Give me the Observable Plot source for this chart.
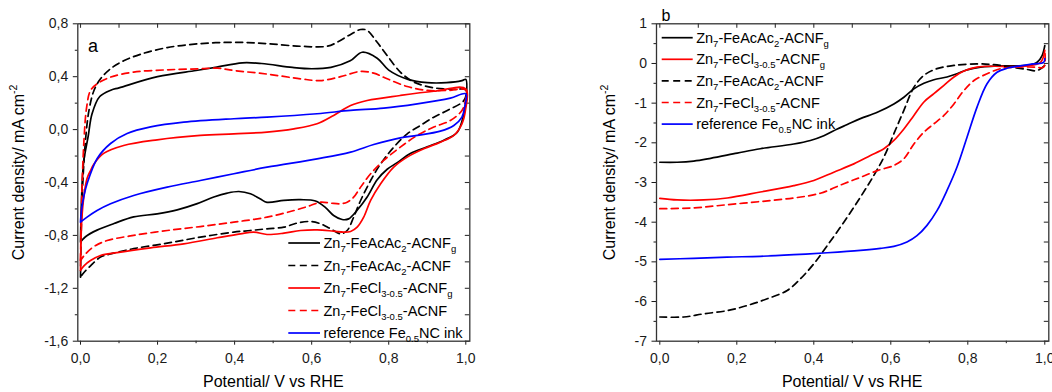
<!DOCTYPE html>
<html><head><meta charset="utf-8">
<script src="https://cdn.jsdelivr.net/npm/d3@7"></script>
<script src="https://cdn.jsdelivr.net/npm/@observablehq/plot@0.6"></script>
<style>
html,body{margin:0;padding:0;background:#fff;}
#wrap{position:relative;width:1052px;height:392px;overflow:hidden;font-family:"Liberation Sans",Arial,sans-serif;}
#wrap svg{position:absolute;top:0;}
</style></head><body><div id="wrap"></div>
<script>
// ---------- Panel a (cyclic voltammograms) ----------
const aFeAcAcGX = [0,0.003,0.008,0.02,0.03,0.05,0.08,0.1,0.2,0.3,0.35,0.42,0.47,0.55,0.6,0.65,0.7,0.731,0.77,0.8,0.85,0.9,0.95,0.99,1.0,
  1.0,0.995,0.978,0.943,0.900,0.856,0.822,0.796,0.770,0.744,0.718,0.696,0.679,0.657,0.636,0.610,0.571,0.528,0.484,0.467,0.441,0.411,0.381,0.346,0.303,0.251,0.199,0.138,0.087,0.043,0.013,0];
const aFeAcAcGY = [-0.85,-0.5,-0.25,-0.05,0.12,0.25,0.3,0.316,0.40,0.447,0.47,0.505,0.50,0.47,0.46,0.47,0.52,0.585,0.54,0.45,0.38,0.355,0.355,0.37,0.38,
  0.2,0.12,-0.02,-0.08,-0.13,-0.18,-0.25,-0.30,-0.38,-0.51,-0.61,-0.675,-0.68,-0.65,-0.59,-0.54,-0.53,-0.535,-0.55,-0.525,-0.485,-0.468,-0.48,-0.51,-0.56,-0.607,-0.637,-0.66,-0.71,-0.76,-0.81,-0.85];

const aFeAcAcX = [0,0.004,0.013,0.022,0.035,0.052,0.078,0.112,0.156,0.225,0.311,0.398,0.484,0.571,0.640,0.666,0.701,0.727,0.744,0.770,0.796,0.830,0.865,0.917,0.969,1.0,
  0.995,0.952,0.917,0.882,0.848,0.813,0.779,0.753,0.727,0.709,0.692,0.675,0.649,0.623,0.597,0.562,0.528,0.484,0.441,0.398,0.311,0.225,0.138,0.078,0.052,0.026,0.009,0];
const aFeAcAcY = [-1.116,-0.536,-0.08,0.145,0.296,0.384,0.46,0.52,0.57,0.62,0.65,0.66,0.65,0.63,0.63,0.66,0.72,0.757,0.75,0.66,0.56,0.435,0.36,0.316,0.305,0.30,
  0.22,0.145,0.094,0.031,-0.032,-0.133,-0.259,-0.385,-0.536,-0.662,-0.763,-0.788,-0.75,-0.712,-0.695,-0.707,-0.738,-0.75,-0.763,-0.775,-0.813,-0.859,-0.90,-0.94,-0.964,-1.03,-1.08,-1.116];

const aFeClGX = [0,0.003,0.009,0.017,0.026,0.035,0.06,0.112,0.199,0.311,0.398,0.484,0.554,0.614,0.657,0.701,0.744,0.830,0.917,1.0,
  0.999,0.990,0.969,0.934,0.891,0.848,0.813,0.779,0.753,0.735,0.718,0.701,0.683,0.657,0.614,0.571,0.528,0.484,0.450,0.415,0.355,0.268,0.182,0.095,0.052,0.026,0.009,0];
const aFeClGY = [-1.065,-0.70,-0.50,-0.37,-0.31,-0.26,-0.18,-0.12,-0.077,-0.044,-0.032,-0.019,0.006,0.044,0.107,0.182,0.22,0.258,0.29,0.308,
  0.145,0.044,-0.044,-0.095,-0.145,-0.208,-0.284,-0.41,-0.536,-0.662,-0.738,-0.77,-0.775,-0.768,-0.758,-0.763,-0.783,-0.793,-0.775,-0.788,-0.818,-0.864,-0.894,-0.93,-0.952,-0.99,-1.03,-1.065];

const aFeClX = [0,0.003,0.009,0.016,0.026,0.043,0.078,0.138,0.225,0.311,0.355,0.398,0.484,0.571,0.623,0.675,0.727,0.761,0.796,0.848,0.900,0.952,1.0,
  0.999,0.990,0.960,0.917,0.874,0.830,0.787,0.753,0.727,0.709,0.692,0.675,0.649,0.623,0.597,0.554,0.484,0.398,0.311,0.225,0.138,0.069,0.035,0.013,0];
const aFeClY = [-0.99,-0.536,-0.082,0.17,0.296,0.346,0.397,0.435,0.452,0.46,0.465,0.447,0.42,0.384,0.371,0.40,0.44,0.427,0.384,0.326,0.296,0.296,0.30,
  0.22,0.145,0.069,0.019,-0.044,-0.133,-0.233,-0.334,-0.435,-0.511,-0.549,-0.561,-0.556,-0.549,-0.574,-0.612,-0.662,-0.70,-0.733,-0.763,-0.80,-0.839,-0.884,-0.94,-0.99];

const aRefX = [0,0.003,0.009,0.017,0.043,0.078,0.121,0.182,0.268,0.398,0.484,0.614,0.701,0.787,0.874,0.960,1.0,
  0.997,0.990,0.969,0.934,0.874,0.830,0.761,0.701,0.614,0.484,0.398,0.311,0.225,0.138,0.078,0.043,0.017,0];
const aRefY = [-0.70,-0.60,-0.50,-0.41,-0.22,-0.105,-0.03,0.02,0.056,0.082,0.094,0.12,0.145,0.162,0.195,0.238,0.27,
  0.17,0.094,0.031,-0.012,-0.044,-0.062,-0.113,-0.17,-0.221,-0.284,-0.334,-0.385,-0.435,-0.498,-0.561,-0.612,-0.662,-0.70];

// ---------- Panel b (linear sweeps) ----------
const bFeAcAcGX = [0,0.045,0.088,0.132,0.201,0.261,0.348,0.391,0.426,0.461,0.487,0.521,0.565,0.608,0.634,0.660,0.686,0.712,0.746,0.772,0.798,0.833,0.868,0.911,0.954,0.980,0.993,1.0];
const bFeAcAcGY = [-2.49,-2.49,-2.46,-2.39,-2.26,-2.15,-2.03,-1.94,-1.82,-1.65,-1.54,-1.39,-1.23,-1.02,-0.85,-0.64,-0.50,-0.41,-0.34,-0.26,-0.16,-0.09,-0.07,-0.06,-0.05,0.03,0.20,0.45];

const bFeClGX = [0,0.045,0.114,0.175,0.261,0.348,0.400,0.452,0.504,0.547,0.582,0.608,0.634,0.660,0.686,0.712,0.738,0.764,0.790,0.824,0.868,0.911,0.954,0.989,1.0];
const bFeClGY = [-3.40,-3.44,-3.44,-3.39,-3.24,-3.08,-2.95,-2.74,-2.53,-2.32,-2.15,-1.94,-1.65,-1.31,-0.97,-0.76,-0.55,-0.34,-0.19,-0.09,-0.07,-0.08,-0.06,0.03,0.33];

const bFeAcAcX = [0,0.062,0.114,0.175,0.227,0.279,0.331,0.365,0.400,0.435,0.478,0.521,0.556,0.582,0.608,0.634,0.660,0.686,0.720,0.764,0.824,0.868,0.911,0.954,0.980,1.0];
const bFeAcAcY = [-6.39,-6.39,-6.31,-6.23,-6.10,-5.93,-5.72,-5.43,-5.05,-4.59,-4.0,-3.37,-2.82,-2.36,-1.77,-1.18,-0.60,-0.30,-0.13,-0.05,-0.01,-0.03,-0.09,-0.15,-0.18,-0.05];

const bFeClX = [0,0.088,0.175,0.261,0.348,0.417,0.478,0.521,0.565,0.608,0.634,0.660,0.686,0.712,0.738,0.764,0.790,0.816,0.850,0.885,0.928,0.971,0.997,1.0];
const bFeClY = [-3.66,-3.64,-3.56,-3.48,-3.39,-3.27,-3.03,-2.87,-2.70,-2.57,-2.40,-2.03,-1.73,-1.52,-1.31,-1.02,-0.68,-0.43,-0.26,-0.13,-0.09,-0.09,-0.09,0.33];

const bRefX = [0,0.088,0.175,0.261,0.348,0.435,0.521,0.573,0.608,0.642,0.668,0.694,0.720,0.746,0.772,0.798,0.824,0.850,0.876,0.902,0.937,0.971,0.997,1.0];
const bRefY = [-4.94,-4.91,-4.88,-4.86,-4.82,-4.77,-4.71,-4.66,-4.61,-4.50,-4.34,-4.08,-3.71,-3.20,-2.61,-1.86,-1.10,-0.51,-0.22,-0.12,-0.06,-0.01,0.03,0.12];

// ---------- ticks & labels ----------
const xMajor = [0, 0.2, 0.4, 0.6, 0.8, 1.0];
const xMinor = [0.1, 0.3, 0.5, 0.7, 0.9];
const aYMajor = [-1.6, -1.2, -0.8, -0.4, 0, 0.4, 0.8];
const aYMinor = [-1.4, -1.0, -0.6, -0.2, 0.2, 0.6];
const bYMajor = [-7, -6, -5, -4, -3, -2, -1, 0, 1];
const bYMinor = [-6.5, -5.5, -4.5, -3.5, -2.5, -1.5, -0.5, 0.5];

const xTitle = "Potential/ V vs RHE";
const yTitle = "Current density/ mA cm";
const yTitleSup = "-2";

// legend labels as [text, isSubscript] parts
const nameFeAcAcG = [["Zn",0],["7",1],["-FeAcAc",0],["2",1],["-ACNF",0],["g",1]];
const nameFeAcAc  = [["Zn",0],["7",1],["-FeAcAc",0],["2",1],["-ACNF",0]];
const nameFeClG   = [["Zn",0],["7",1],["-FeCl",0],["3-0.5",1],["-ACNF",0],["g",1]];
const nameFeCl    = [["Zn",0],["7",1],["-FeCl",0],["3-0.5",1],["-ACNF",0]];
const nameRef     = [["reference Fe",0],["0.5",1],["NC ink",0]];

const rows = (xs, ys) => xs.map((x, i) => ({x, y: ys[i]}));
const fmt1 = d => d.toFixed(1).replace(".", ",");

function richText(sel, parts, subSize, subDy) {
  let shifted = 0;
  parts.forEach(([t, sub]) => {
    const ts = sel.append("tspan").text(t);
    if (sub && !shifted) { ts.attr("dy", subDy).attr("font-size", subSize); shifted = 1; }
    else if (sub) { ts.attr("font-size", subSize); }
    else if (!sub && shifted) { ts.attr("dy", -subDy); shifted = 0; }
  });
}

function panel(cfg) {
  const {width, left, mL, mR, xDomain, yDomain, yMajor, yMinor, yFmt, series, legend, tag} = cfg;
  const height = 392, mT = 23.3, mB = 51.3;
  const innerW = width - mL - mR, innerH = height - mT - mB;
  const marks = [
    Plot.axisX({ticks: xMajor, anchor: "bottom", tickSize: 4, tickPadding: 8, tickFormat: fmt1, label: null, fontSize: 14}),
    Plot.axisX({ticks: xMinor, anchor: "bottom", tickSize: 2.5, tickFormat: () => "", label: null}),
    Plot.axisY({ticks: yMajor, anchor: "left", tickSize: 4.5, tickPadding: 5, tickFormat: yFmt, label: null, fontSize: 14}),
    Plot.axisY({ticks: yMinor, anchor: "left", tickSize: 2.5, tickFormat: () => "", label: null}),
    Plot.tickX(xMajor.concat(xMinor), {x: d => d, insetBottom: innerH - 4.5, stroke: "#333", strokeWidth: 1.1}),
    Plot.tickY(yMajor.concat(yMinor), {y: d => d, insetLeft: innerW - 4.5, stroke: "#333", strokeWidth: 1.1}),
    ...series.map(s => Plot.line(rows(s.x, s.y), {x: "x", y: "y", stroke: s.color, strokeWidth: 1.7,
      strokeDasharray: s.dash ? "7,4.5" : null, curve: "catmull-rom"})),
    Plot.frame({stroke: "#333", strokeWidth: 1.3})
  ];
  const chart = Plot.plot({
    width, height, marginLeft: mL, marginRight: mR, marginTop: mT, marginBottom: mB,
    x: {domain: xDomain}, y: {domain: yDomain},
    style: {fontFamily: '"Liberation Sans", Arial, sans-serif', fontSize: "14px", color: "#1a1a1a", background: "transparent", overflow: "visible"},
    marks
  });
  chart.style.left = left + "px";
  const svg = d3.select(chart);
  const ff = '"Liberation Sans", Arial, sans-serif';
  // legend
  const lg = svg.append("g").attr("text-anchor", "start");
  legend.rows.forEach((s, i) => {
    const y = legend.y0 + i * legend.dy;
    lg.append("line").attr("x1", legend.x1).attr("x2", legend.x2).attr("y1", y).attr("y2", y)
      .attr("stroke", s.color).attr("stroke-width", 1.7).attr("stroke-dasharray", s.dash ? "7,4.5" : null);
    const t = lg.append("text").attr("x", legend.x2 + 3.5).attr("y", y + 5).attr("text-anchor", "start")
      .attr("font-family", ff).attr("font-size", 14.5).attr("fill", "#000");
    richText(t, s.name, 9.5, 4);
  });
  // axis titles
  svg.append("text").attr("x", mL + innerW / 2).attr("y", 386.5).attr("text-anchor", "middle")
    .attr("font-family", ff).attr("font-size", 16).attr("fill", "#000").text(xTitle);
  const yt = svg.append("text").attr("transform", `translate(${cfg.yTitleX},172.5) rotate(-90)`)
    .attr("text-anchor", "middle").attr("font-family", ff).attr("font-size", 16).attr("fill", "#000");
  yt.append("tspan").text(yTitle);
  yt.append("tspan").attr("dy", -7).attr("font-size", 10.5).text(yTitleSup);
  // panel tag
  svg.append("text").attr("x", tag.x).attr("y", tag.y).attr("text-anchor", "start").attr("font-family", ff)
    .attr("font-size", tag.size).attr("fill", "#000").text(tag.text);
  return chart;
}

const wrap = document.getElementById("wrap");

const seriesA = [
  {x: aFeAcAcGX, y: aFeAcAcGY, color: "#000000", dash: false, name: nameFeAcAcG},
  {x: aFeAcAcX, y: aFeAcAcY, color: "#000000", dash: true, name: nameFeAcAc},
  {x: aFeClGX, y: aFeClGY, color: "#ff0000", dash: false, name: nameFeClG},
  {x: aFeClX, y: aFeClY, color: "#ff0000", dash: true, name: nameFeCl},
  {x: aRefX, y: aRefY, color: "#0000ff", dash: false, name: nameRef}
];
const seriesB = [
  {x: bFeAcAcGX, y: bFeAcAcGY, color: "#000000", dash: false, name: nameFeAcAcG},
  {x: bFeClGX, y: bFeClGY, color: "#ff0000", dash: false, name: nameFeClG},
  {x: bFeAcAcX, y: bFeAcAcY, color: "#000000", dash: true, name: nameFeAcAc},
  {x: bFeClX, y: bFeClY, color: "#ff0000", dash: true, name: nameFeCl},
  {x: bRefX, y: bRefY, color: "#0000ff", dash: false, name: nameRef}
];

wrap.appendChild(panel({
  width: 540, left: 0, mL: 77.3, mR: 70.7,
  xDomain: [-0.007, 1.0104], yDomain: [-1.6, 0.8],
  yMajor: aYMajor, yMinor: aYMinor, yFmt: fmt1,
  series: seriesA,
  legend: {rows: seriesA, x1: 288.3, x2: 320, y0: 243, dy: 22.5},
  tag: {text: "a", x: 88, y: 52.3, size: 18},
  yTitleX: 23.5
}));

wrap.appendChild(panel({
  width: 512, left: 540, mL: 116, mR: 3.7,
  xDomain: [-0.0086, 1.0104], yDomain: [-7, 1],
  yMajor: bYMajor, yMinor: bYMinor, yFmt: d => String(d),
  series: seriesB,
  legend: {rows: seriesB, x1: 121.7, x2: 152.7, y0: 37.7, dy: 21.6},
  tag: {text: "b", x: 121.5, y: 20.7, size: 16},
  yTitleX: 75
}));
</script></body></html>
